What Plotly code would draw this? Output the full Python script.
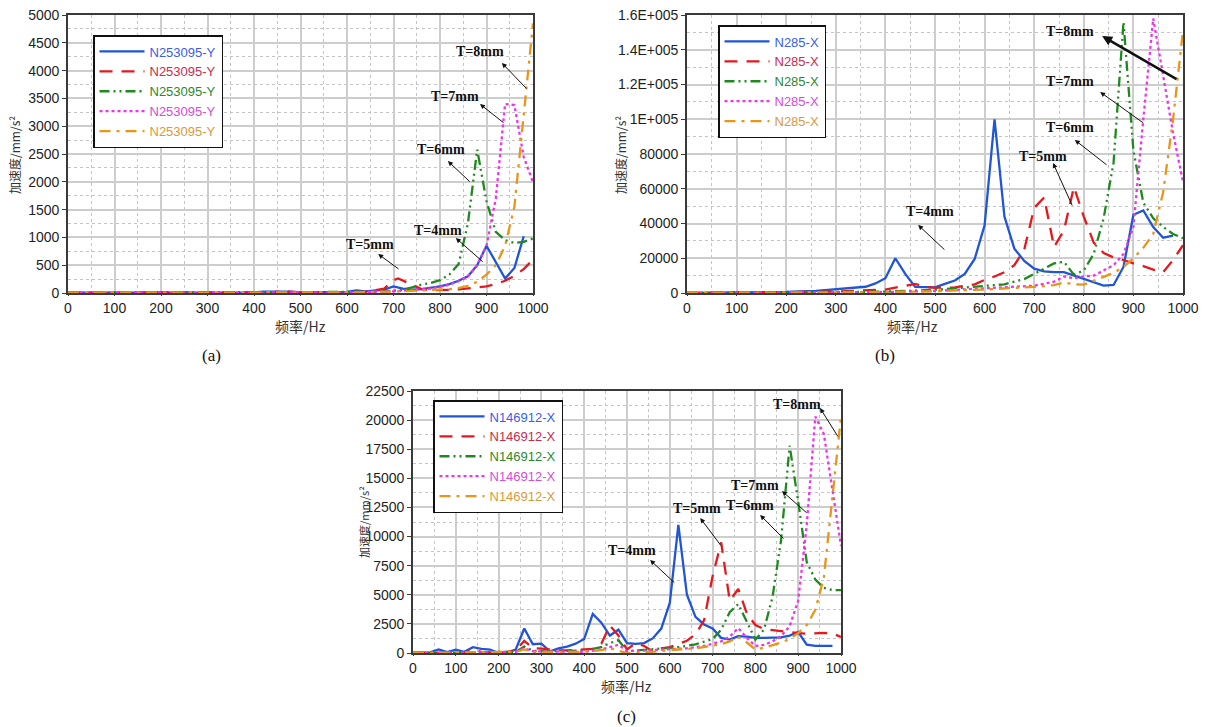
import plotly.graph_objects as go

# ---------------- data: (a) N253095-Y ----------------
A_blue_f = [0, 400, 420, 460, 480, 500, 600, 620, 640, 680, 700, 720, 740, 760, 780, 800, 820, 840, 860, 880, 900, 920, 940, 960, 980]
A_blue_v = [5, 10, 25, 30, 25, 10, 20, 45, 30, 60, 120, 80, 60, 70, 90, 120, 160, 220, 300, 500, 850, 550, 260, 450, 1020]
A_red_f = [0, 440, 460, 480, 500, 640, 680, 700, 710, 740, 760, 780, 800, 820, 840, 860, 880, 900, 920, 940, 960, 980, 1000]
A_red_v = [5, 15, 30, 25, 10, 20, 80, 230, 260, 150, 70, 50, 50, 55, 65, 80, 95, 120, 160, 220, 310, 430, 600]
A_green_f = [0, 600, 660, 700, 720, 740, 760, 780, 800, 820, 840, 860, 880, 900, 920, 940, 960, 980, 1000]
A_green_v = [5, 10, 20, 40, 60, 100, 150, 180, 230, 330, 520, 1250, 2580, 1650, 1100, 950, 900, 920, 980]
A_mag_f = [0, 600, 700, 760, 780, 800, 820, 840, 860, 880, 900, 920, 940, 960, 980, 1000]
A_mag_v = [5, 10, 30, 60, 80, 110, 150, 210, 300, 500, 850, 1700, 3400, 3380, 2450, 1990]
A_org_f = [0, 600, 700, 780, 800, 820, 840, 860, 880, 900, 920, 940, 960, 980, 1000]
A_org_v = [5, 10, 25, 50, 60, 70, 90, 130, 200, 330, 500, 850, 1550, 3200, 4850]

# ---------------- data: (b) N285-X ----------------
B_blue_f = [0, 100, 200, 260, 300, 340, 360, 380, 400, 420, 440, 460, 480, 500, 520, 540, 560, 580, 600, 620, 640, 660, 680, 700, 720, 740, 760, 780, 800, 820, 840, 860, 880, 900, 920, 940, 960, 980]
B_blue_v = [0, 200, 600, 1200, 2000, 2800, 3600, 5500, 8500, 20000, 11000, 3500, 3300, 3200, 5200, 7200, 11000, 19600, 39000, 100000, 44000, 25500, 18500, 14000, 12500, 12000, 12000, 10000, 8000, 6200, 4300, 4600, 15000, 45000, 47500, 38000, 31800, 33000]
B_red_f = [0, 200, 300, 400, 420, 440, 460, 480, 500, 540, 580, 600, 620, 640, 660, 680, 700, 720, 740, 760, 780, 800, 820, 840, 860, 880, 900, 920, 940, 960, 980, 1000]
B_red_v = [0, 300, 800, 2000, 3000, 4200, 5200, 3500, 3000, 3200, 5000, 7500, 9500, 12000, 16000, 25000, 49000, 55000, 26500, 36000, 61000, 44000, 29000, 23000, 20500, 19000, 17000, 15500, 13500, 12000, 19000, 27500]
B_green_f = [0, 300, 400, 500, 560, 600, 640, 680, 700, 720, 740, 760, 780, 800, 820, 840, 860, 880, 900, 920, 940, 960, 980, 1000]
B_green_v = [0, 300, 800, 1800, 3000, 4000, 5000, 8000, 11000, 14000, 17000, 18000, 10500, 13000, 22500, 43000, 75000, 156000, 82000, 52000, 43000, 38000, 34000, 31500]
B_mag_f = [0, 300, 400, 500, 600, 700, 740, 760, 780, 800, 820, 840, 860, 880, 900, 920, 940, 960, 980, 1000]
B_mag_v = [0, 300, 600, 1200, 2500, 4200, 6500, 9500, 8500, 9500, 10000, 13000, 16000, 22500, 38000, 100000, 158000, 125000, 92000, 64000]
B_org_f = [0, 300, 400, 500, 600, 700, 740, 760, 780, 800, 820, 840, 860, 880, 900, 920, 940, 960, 980, 1000]
B_org_v = [0, 200, 500, 1000, 2000, 3500, 4500, 6000, 5000, 4800, 7000, 9000, 11500, 15000, 20000, 26000, 34000, 58000, 100000, 151000]

# ---------------- data: (c) N146912-X ----------------
C_blue_f = [0, 20, 40, 60, 80, 100, 120, 140, 160, 180, 200, 220, 240, 260, 280, 300, 320, 340, 360, 380, 400, 420, 440, 460, 480, 500, 520, 540, 560, 580, 600, 620, 640, 660, 680, 700, 720, 740, 760, 780, 800, 820, 840, 860, 880, 900, 920, 940, 960, 980]
C_blue_v = [0, 0, 50, 300, 80, 280, 100, 500, 350, 300, 0, 50, 300, 2100, 750, 800, 150, 400, 550, 800, 1200, 3350, 2600, 1500, 2000, 850, 780, 850, 1250, 2100, 4300, 11000, 5000, 3100, 2450, 2100, 1300, 1150, 1450, 1400, 1300, 1300, 1300, 1350, 1500, 1800, 720, 620, 620, 620]
C_red_f = [0, 120, 140, 160, 200, 240, 260, 280, 300, 320, 340, 360, 380, 400, 420, 440, 460, 480, 500, 520, 540, 560, 580, 600, 620, 640, 660, 680, 700, 720, 740, 760, 780, 800, 820, 840, 860, 880, 900, 920, 940, 960, 980, 1000]
C_red_v = [0, 0, 250, 100, 0, 200, 1050, 400, 380, 300, 230, 230, 250, 300, 350, 800, 2350, 1500, 300, 850, 600, 150, 400, 500, 750, 1050, 1600, 2800, 6600, 9500, 4500, 5500, 3400, 2400, 2050, 1950, 1850, 1750, 1700, 1650, 1700, 1720, 1680, 1380]
C_green_f = [0, 240, 260, 280, 300, 400, 420, 440, 460, 480, 500, 520, 560, 600, 620, 660, 700, 720, 740, 760, 780, 800, 820, 840, 860, 880, 900, 920, 940, 960, 980, 1000]
C_green_v = [0, 100, 550, 200, 150, 200, 350, 500, 850, 1100, 150, 200, 350, 450, 500, 750, 1200, 2000, 3500, 4200, 2600, 1150, 2000, 4800, 9700, 17800, 13000, 7800, 6300, 5600, 5400, 5400]
C_mag_f = [0, 240, 260, 280, 400, 440, 460, 480, 500, 600, 640, 680, 700, 720, 740, 760, 780, 800, 820, 840, 860, 880, 900, 920, 940, 960, 980, 1000]
C_mag_v = [0, 100, 400, 150, 100, 300, 500, 700, 150, 350, 400, 600, 800, 1000, 1400, 2150, 1300, 600, 700, 1000, 1450, 2300, 4500, 11000, 20300, 18800, 14000, 9200]
C_org_f = [0, 240, 260, 280, 400, 440, 460, 480, 500, 560, 600, 660, 700, 720, 740, 760, 780, 800, 820, 840, 860, 880, 900, 920, 940, 960, 980, 1000]
C_org_v = [0, 100, 300, 100, 100, 250, 400, 200, 0, 100, 250, 400, 600, 750, 1000, 1400, 900, 300, 450, 650, 900, 1200, 1700, 2400, 3700, 6500, 13500, 20300]

# tick labels
X_TICKS = [0, 100, 200, 300, 400, 500, 600, 700, 800, 900, 1000]
A_YTICKS = [0, 500, 1000, 1500, 2000, 2500, 3000, 3500, 4000, 4500, 5000]
B_YTICKS = [0, 20000, 40000, 60000, 80000, 100000, 120000, 140000, 160000]
B_YTEXT = ["0", "20000", "40000", "60000", "80000", "1E+005", "1.2E+005", "1.4E+005", "1.6E+005"]
C_YTICKS = [0, 2500, 5000, 7500, 10000, 12500, 15000, 17500, 20000, 22500]

NAMES = ["N253095-Y", "N285-X", "N146912-X"]
LABELS = ["T=4mm", "T=5mm", "T=6mm", "T=7mm", "T=8mm"]

LINE_COLORS = ["#1f55d6", "#e5191d", "#1e8a1e", "#ec34ec", "#e8951a"]
TEXT_COLORS = ["#3a5cf0", "#cc2a4a", "#2a8a2a", "#d84ad8", "#d99a3a"]
DASHES = ["solid", "13px,9px", "10px,4px,2px,4px,2px,4px", "3px,3px", "11px,6px,3px,6px"]

W, H = 1208, 727
def px2x(px): return px / W
def py2y(py): return 1 - py / H

fig = go.Figure()

datasets = [
    [(A_blue_f, A_blue_v), (A_red_f, A_red_v), (A_green_f, A_green_v), (A_mag_f, A_mag_v), (A_org_f, A_org_v)],
    [(B_blue_f, B_blue_v), (B_red_f, B_red_v), (B_green_f, B_green_v), (B_mag_f, B_mag_v), (B_org_f, B_org_v)],
    [(C_blue_f, C_blue_v), (C_red_f, C_red_v), (C_green_f, C_green_v), (C_mag_f, C_mag_v), (C_org_f, C_org_v)],
]
legnames = ["legend", "legend2", "legend3"]
axsuf = ["", "2", "3"]

for k, ds in enumerate(datasets):
    for i, (f, v) in enumerate(ds):
        fig.add_trace(go.Scatter(
            x=f, y=v, mode="lines",
            line=dict(color=LINE_COLORS[i], width=2.3, dash=DASHES[i]),
            name=f"<span style='color:{TEXT_COLORS[i]}'>{NAMES[k]}</span>",
            xaxis="x" + axsuf[k], yaxis="y" + axsuf[k],
            legend=legnames[k], showlegend=True,
        ))

TICKFONT = dict(family="Liberation Sans, Arial", size=14, color="#1e1e1e")

def xax(domain, anchor):
    return dict(domain=domain, anchor=anchor, range=[0, 1000], tickvals=X_TICKS,
                ticktext=[str(t) for t in X_TICKS],
                showgrid=True, gridcolor="#cdcdcd", gridwidth=1.5,
                minor=dict(dtick=50, showgrid=True, gridcolor="#c4c4c4", griddash="dot", gridwidth=1),
                showline=True, linecolor="#3a3a3a", linewidth=1.6, mirror=True,
                ticks="outside", ticklen=1, tickcolor="#3a3a3a",
                zeroline=False, tickfont=TICKFONT, fixedrange=True, automargin=False)

def yax(domain, anchor, rng, tickvals, ticktext, minor_dtick):
    return dict(domain=domain, anchor=anchor, range=rng, tickvals=tickvals, ticktext=ticktext,
                showgrid=True, gridcolor="#cdcdcd", gridwidth=1.5,
                minor=dict(dtick=minor_dtick, showgrid=True, gridcolor="#c4c4c4", griddash="dot", gridwidth=1),
                showline=True, linecolor="#3a3a3a", linewidth=1.6, mirror=True,
                ticks="outside", ticklen=4, tickcolor="#3a3a3a",
                zeroline=False, tickfont=TICKFONT, fixedrange=True, automargin=False)

ya_dom = [py2y(293), py2y(15)]
fig.update_layout(
    xaxis=xax([px2x(68), px2x(533)], "y"),
    yaxis=yax(ya_dom, "x", [0, 5000], A_YTICKS, [str(t) for t in A_YTICKS], 250),
    xaxis2=xax([px2x(687), px2x(1183)], "y2"),
    yaxis2=yax(ya_dom, "x2", [0, 160000], B_YTICKS, B_YTEXT, 10000),
    xaxis3=xax([px2x(413), px2x(841)], "y3"),
    yaxis3=yax([py2y(653), py2y(391)], "x3", [0, 22500], C_YTICKS, [str(t) for t in C_YTICKS], 1250),
)

legfont = dict(family="Liberation Sans, Arial", size=13)
legcommon = dict(bgcolor="white", bordercolor="#111", borderwidth=1.5, font=legfont,
                 xanchor="left", yanchor="top", itemwidth=45, tracegroupgap=0)
fig.update_layout(
    legend=dict(x=px2x(93), y=py2y(35), **legcommon),
    legend2=dict(x=px2x(718), y=py2y(25), **legcommon),
    legend3=dict(x=px2x(433), y=py2y(400), **legcommon),
)

anns = []
CJK = "Noto Sans CJK SC"
PAPER = dict(xref="paper", yref="paper", showarrow=False, xanchor="center", yanchor="middle")
for (xp, yp) in [(300, 326), (912, 326), (626, 686)]:
    anns.append(dict(text="频率/Hz", x=px2x(xp), y=py2y(yp),
                     font=dict(family=CJK, size=14, color="#333"), **PAPER))
for (xp, yp, fs) in [(15, 155, 12), (621, 155, 12), (364, 522, 11)]:
    anns.append(dict(text="加速度/mm/s²", x=px2x(xp), y=py2y(yp), textangle=-90,
                     font=dict(family=CJK, size=fs, color="#333"), **PAPER))
for (t, xp, yp) in [("(a)", 211, 355), ("(b)", 885, 355), ("(c)", 626, 716)]:
    anns.append(dict(text=t, x=px2x(xp), y=py2y(yp),
                     font=dict(family="Liberation Serif, Times New Roman", size=17, color="#111"), **PAPER))

# T labels: (label, text x, text y, head x, head y, tail x, tail y, width)
A_ANN = [(LABELS[0], 796, 1133, 834, 989, 895, 540, 1),
         (LABELS[1], 649, 881, 667, 701, 714, 414, 1),
         (LABELS[2], 802, 2572, 817, 2374, 867, 1978, 1),
         (LABELS[3], 832, 3543, 886, 3399, 940, 3040, 1),
         (LABELS[4], 886, 4335, 933, 4137, 989, 3651, 1)]
B_ANN = [(LABELS[0], 490, 46619, 466, 39137, 522, 24173, 1),
         (LABELS[1], 718, 78273, 738, 74820, 778, 49496, 1),
         (LABELS[2], 772, 94964, 782, 88058, 849, 73093, 1),
         (LABELS[3], 772, 121439, 833, 115683, 923, 97266, 1),
         (LABELS[4], 772, 150216, 837, 147914, 990, 122590, 2.5)]
C_ANN = [(LABELS[0], 512, 8760, 554, 7987, 614, 5926, 1),
         (LABELS[1], 664, 12452, 671, 11593, 722, 9103, 1),
         (LABELS[2], 787, 12710, 811, 11851, 869, 9704, 1),
         (LABELS[3], 799, 14427, 862, 13912, 923, 11937, 1),
         (LABELS[4], 897, 21383, 951, 21040, 995, 18464, 1)]

for k, lst in enumerate([A_ANN, B_ANN, C_ANN]):
    xr, yr = "x" + axsuf[k], "y" + axsuf[k]
    for (lab, tx, ty, hx, hy, sx, sy, w) in lst:
        anns.append(dict(text=f"<b>{lab}</b>", x=tx, y=ty, xref=xr, yref=yr, showarrow=False,
                         xanchor="center", yanchor="middle",
                         font=dict(family="Liberation Serif, Times New Roman", size=14, color="#111")))
        anns.append(dict(text="", x=hx, y=hy, xref=xr, yref=yr, ax=sx, ay=sy, axref=xr, ayref=yr,
                         showarrow=True, arrowhead=2, arrowsize=1 if w < 2 else 0.8,
                         arrowwidth=w, arrowcolor="#111", standoff=0, startstandoff=0))

fig.update_layout(
    annotations=anns,
    width=W, height=H, autosize=False, margin=dict(l=0, r=0, t=0, b=0, autoexpand=False),
    paper_bgcolor="white", plot_bgcolor="white",
)

fig.write_html("out.html", config={"responsive": False},
               post_script="document.body.style.margin='0px';document.body.style.overflow='hidden';")
